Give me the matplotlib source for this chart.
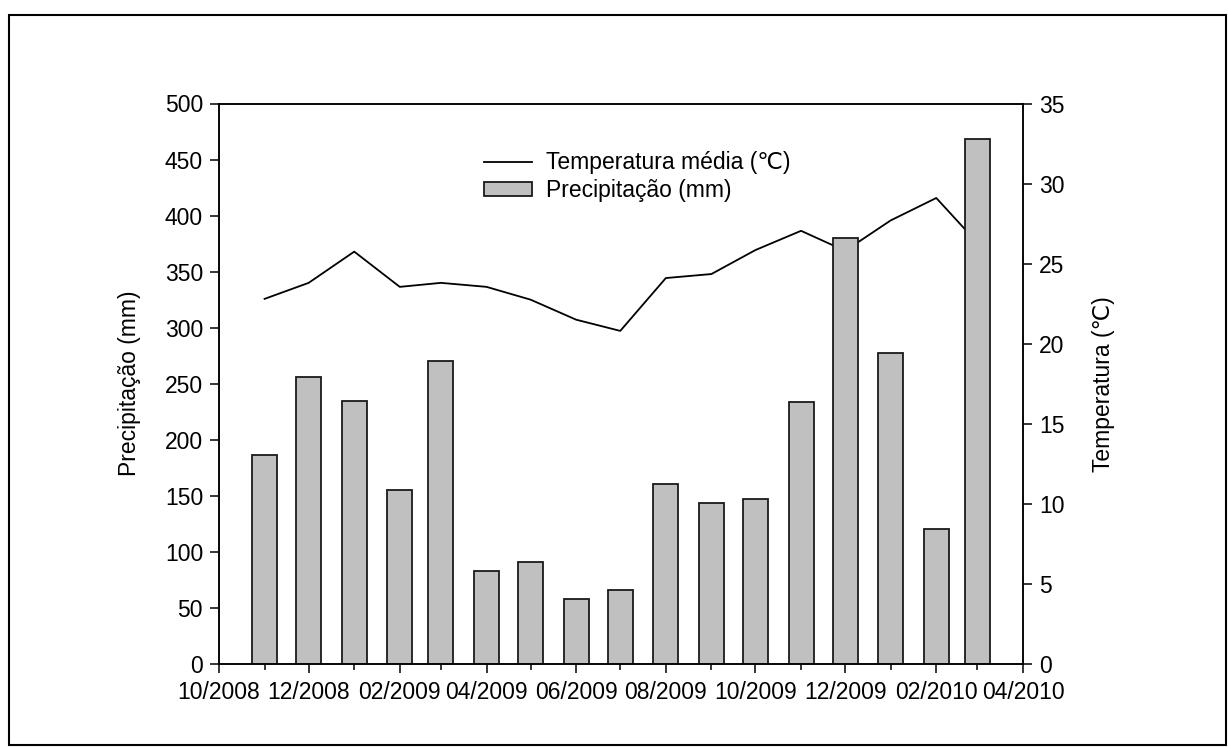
import matplotlib
matplotlib.use("Agg")
from matplotlib import pyplot as plt
from matplotlib.patches import Rectangle
from matplotlib.lines import Line2D
import matplotlib.dates as mdates
import numpy as np
import datetime

plt.rcParams['font.family'] = ['Liberation Sans', 'DejaVu Sans']
FS = 16.5
plt.rcParams['font.size'] = FS

# monthly data, Nov/2008 .. Mar/2010
months = ["2008-11", "2008-12", "2009-01", "2009-02", "2009-03", "2009-04",
          "2009-05", "2009-06", "2009-07", "2009-08", "2009-09", "2009-10",
          "2009-11", "2009-12", "2010-01", "2010-02", "2010-03"]
precip = [186, 256, 235, 155, 270, 83, 91, 58, 66, 161, 144, 147,
          234, 380, 277, 120, 468]
temp = [22.8, 23.8, 25.75, 23.55, 23.8, 23.55, 22.75, 21.5, 20.8, 24.1,
        24.35, 25.85, 27.05, 25.8, 27.7, 29.1, 26.3]

dates = [datetime.datetime.strptime(m, "%Y-%m") for m in months]

W, H = 1228, 747
fig = plt.figure(figsize=(W / 100, H / 100), dpi=100)
fig.subplots_adjust(left=219 / W, right=1023 / W, bottom=1 - 664 / H, top=1 - 103.5 / H)
ax = fig.add_subplot(111)
ax2 = ax.twinx()

# bars must cover the temperature line
ax.set_zorder(ax2.get_zorder() + 1)
ax.patch.set_visible(False)

ax.bar(dates, precip, width=17, color='#c0c0c0', edgecolor='#1a1a1a', linewidth=1.3)
ax2.plot(dates, temp, color='black', linewidth=1.3)

ax.set_ylim(0, 500)
ax.set_yticks(np.arange(0, 501, 50))
ax2.set_ylim(0, 35)
ax2.set_yticks(np.arange(0, 36, 5))
ax.set_xlim(datetime.datetime(2008, 10, 1), datetime.datetime(2010, 4, 1))
ax.xaxis.set_major_locator(mdates.MonthLocator(bymonth=[2, 4, 6, 8, 10, 12]))
ax.xaxis.set_minor_locator(mdates.MonthLocator())
ax.xaxis.set_major_formatter(mdates.DateFormatter('%m/%Y'))

for a in (ax, ax2):
    for s in a.spines.values():
        s.set_linewidth(1.1)
    a.tick_params(which='major', direction='out', length=6.5, width=1.1, labelsize=FS)
ax.tick_params(axis='x', which='minor', direction='out', length=4, width=1.1)
ax.tick_params(axis='x', pad=6)
ax.tick_params(axis='y', pad=5)
ax2.tick_params(axis='y', pad=5)

ax.set_ylabel("Precipitação (mm)", fontsize=FS)
ax.yaxis.set_label_coords(-0.097, 0.5)
ax2.set_ylabel("Temperatura (℃)", fontsize=FS)
ax2.yaxis.set_label_coords(1.086, 0.5)

handles = [Line2D([], [], color='black', linewidth=1.3),
           Rectangle((0, 0), 1, 1, facecolor='#c0c0c0', edgecolor='#1a1a1a', linewidth=1.3)]
ax.legend(handles, ["Temperatura média (℃)", "Precipitação (mm)"],
          loc='upper left', bbox_to_anchor=(0.318, 0.931), frameon=False,
          fontsize=FS, handlelength=2.1, handleheight=0.6, handletextpad=0.6,
          labelspacing=0.2, borderaxespad=0)

fig.patches.append(Rectangle((9 / W, 2 / H), (1226 - 9) / W, (745 - 15) / H,
                             transform=fig.transFigure, fill=False,
                             edgecolor='black', linewidth=1.5))

fig.savefig("out.png", dpi=100)
